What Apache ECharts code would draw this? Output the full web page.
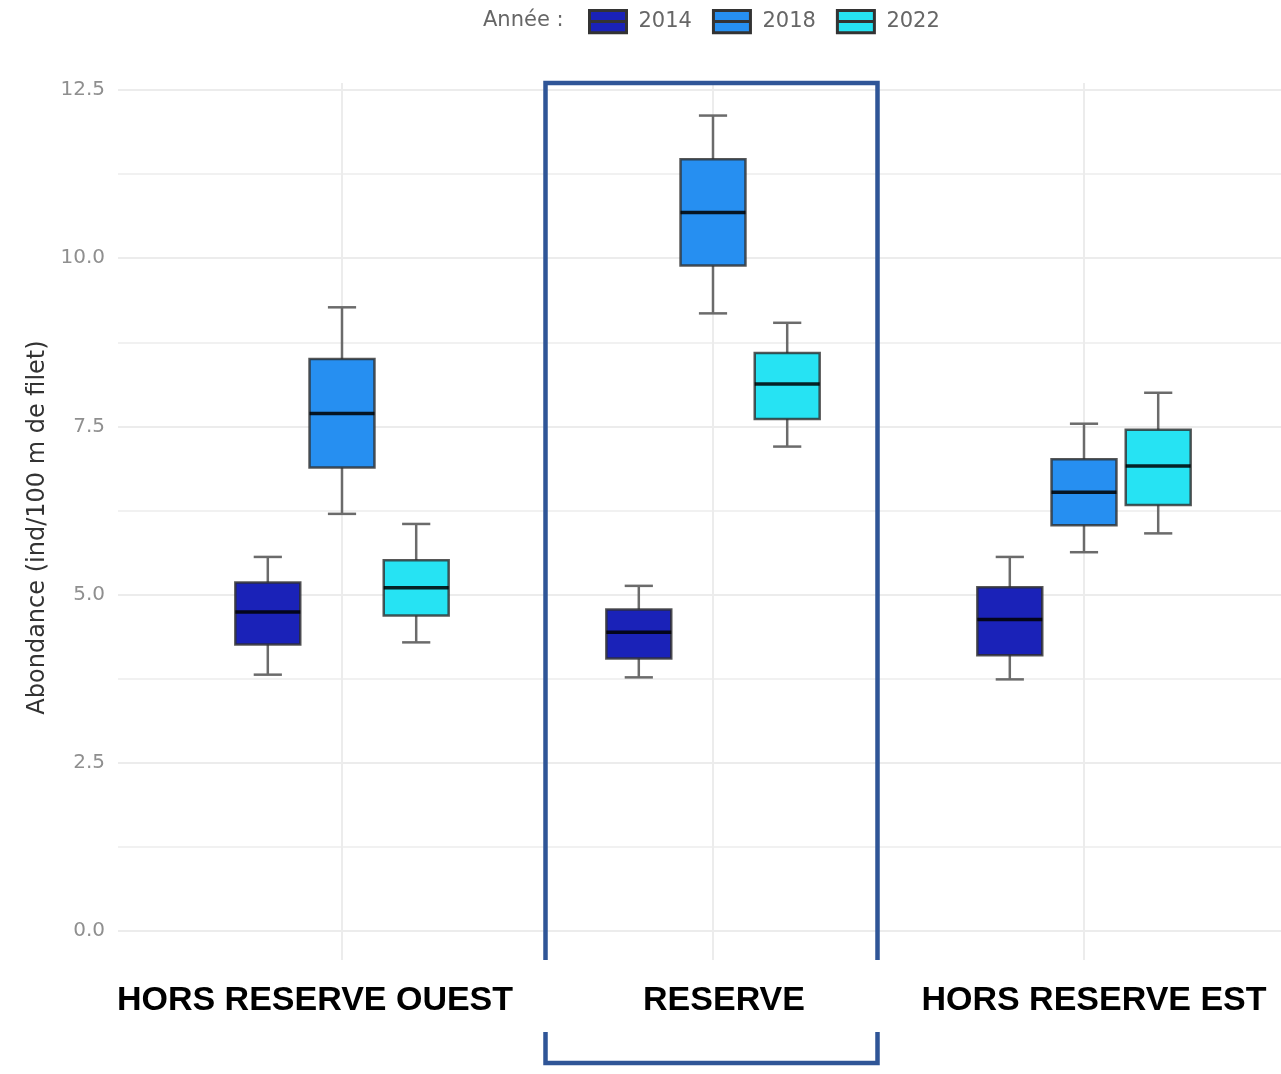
<!DOCTYPE html>
<html>
<head>
<meta charset="utf-8">
<script src="https://cdn.jsdelivr.net/npm/echarts@6/dist/echarts.min.js"></script>
<style>
  html, body { margin: 0; padding: 0; background: #fff; }
  #chart { width: 1281px; height: 1074px; }
</style>
</head>
<body>
<div id="chart"></div>
<script>
// data: [min, q1, median, q3, max] per site
var categories = ['HORS RESERVE OUEST', 'RESERVE', 'HORS RESERVE EST'];
var years = ['2014', '2018', '2022'];
var box2014 = [[3.81, 4.26, 4.74, 5.18, 5.56], [3.77, 4.05, 4.44, 4.78, 5.13], [3.74, 4.10, 4.63, 5.11, 5.56]];
var box2018 = [[6.20, 6.89, 7.69, 8.50, 9.27], [9.18, 9.89, 10.68, 11.47, 12.12], [5.63, 6.03, 6.52, 7.01, 7.54]];
var box2022 = [[4.29, 4.69, 5.10, 5.51, 6.05], [7.20, 7.61, 8.13, 8.59, 9.04], [5.91, 6.33, 6.91, 7.45, 8.00]];
var yMin = 0, yMax = 12.5, yStep = 2.5;

var colors = ['#1a22b8', '#268ff1', '#26e3f3'];
var offsets = [-0.2, 0, 0.2];
var boxes = [box2014, box2018, box2022];

var chart = echarts.init(document.getElementById('chart'));

function renderBox (offset, color) {
  return function (params, api) {
    var ci = api.value(0);
    var band = api.size([1, 0])[0];
    var cx = api.coord([ci, 0])[0] + offset * band;
    var yLo = api.coord([ci, api.value(1)])[1];
    var yQ1 = api.coord([ci, api.value(2)])[1];
    var yMed = api.coord([ci, api.value(3)])[1];
    var yQ3 = api.coord([ci, api.value(4)])[1];
    var yHi = api.coord([ci, api.value(5)])[1];
    var half = band * 0.0875;
    var cap = band * 0.038;
    var wStyle = { stroke: '#6b6b6b', lineWidth: 2.5 };
    return {
      type: 'group',
      children: [
        { type: 'line', shape: { x1: cx, y1: yHi, x2: cx, y2: yQ3 }, style: wStyle },
        { type: 'line', shape: { x1: cx, y1: yQ1, x2: cx, y2: yLo }, style: wStyle },
        { type: 'line', shape: { x1: cx - cap, y1: yHi, x2: cx + cap, y2: yHi }, style: wStyle },
        { type: 'line', shape: { x1: cx - cap, y1: yLo, x2: cx + cap, y2: yLo }, style: wStyle },
        { type: 'rect', shape: { x: cx - half, y: yQ3, width: half * 2, height: yQ1 - yQ3 },
          style: { fill: color, stroke: 'rgba(45,45,45,0.8)', lineWidth: 2.5 } },
        { type: 'line', shape: { x1: cx - half, y1: yMed, x2: cx + half, y2: yMed },
          style: { stroke: 'rgba(0,0,0,0.85)', lineWidth: 3.5 } }
      ]
    };
  };
}

var series = [];
for (let k = 0; k < years.length; k++) {
  var rows = [];
  for (let i = 0; i < categories.length; i++) {
    rows.push([i].concat(boxes[k][i]));
  }
  var s = {
    name: years[k],
    type: 'custom',
    xAxisIndex: 1,
    yAxisIndex: 1,
    z: 3,
    itemStyle: { color: colors[k] },
    encode: { x: 0, y: [1, 2, 3, 4, 5] },
    renderItem: renderBox(offsets[k], colors[k]),
    data: rows
  };
  if (k === 0) {
    s.markLine = {
      silent: true,
      symbol: 'none',
      z: 1,
      label: { show: false },
      lineStyle: { color: '#ececec', width: 2, type: 'solid' },
      data: categories.map(function (c) { return { xAxis: c }; })
    };
  }
  series.push(s);
}

var labelRich = {};
var labelPad = [[0, 54, 0, 0], [0, 0, 0, 22], [0, 0, 0, 20]];
for (let i = 0; i < categories.length; i++) {
  labelRich['c' + i] = {
    fontFamily: 'Liberation Sans', fontWeight: 'bold', fontSize: 34, color: '#000',
    padding: labelPad[i]
  };
}

var frameColor = '#2F5597';

const option = {
  animation: false,
  title: {
    text: 'Année :',
    left: 483,
    top: 10,
    padding: 0,
    textStyle: { fontFamily: 'DejaVu Sans', fontWeight: 'normal', fontSize: 21, color: '#666' }
  },
  legend: {
    data: years,
    left: 588,
    top: 9,
    padding: 0,
    itemWidth: 37,
    itemHeight: 23,
    itemGap: 20,
    selectedMode: false,
    icon: 'path://M0,0H40V24H0Z M0,12H40',
    itemStyle: { borderColor: '#333', borderWidth: 3 },
    textStyle: { fontFamily: 'DejaVu Sans', fontSize: 21, color: '#666', padding: [0, 0, 0, 7] }
  },
  grid: [
    { left: 118, right: 0, top: 90, bottom: 143 },
    { left: 156.5, right: 11.5, top: 83, bottom: 114 }
  ],
  xAxis: [
    { type: 'value', gridIndex: 0, show: false, min: 0, max: 1 },
    {
      type: 'category',
      gridIndex: 1,
      data: categories,
      axisLine: { show: false },
      axisTick: { show: false },
      splitLine: { show: false },
      axisLabel: {
        interval: 0,
        margin: 24,
        formatter: function (v, i) { return '{c' + i + '|' + v + '}'; },
        rich: labelRich
      }
    }
  ],
  yAxis: [
    {
      type: 'value',
      gridIndex: 0,
      min: yMin,
      max: yMax,
      interval: yStep,
      name: 'Abondance (ind/100 m de filet)',
      nameLocation: 'middle',
      nameGap: 66,
      nameTextStyle: { fontFamily: 'DejaVu Sans', fontSize: 24, color: '#333', padding: [0, 34, 0, 0] },
      axisLine: { show: false },
      axisTick: { show: false },
      axisLabel: {
        margin: 13,
        fontFamily: 'DejaVu Sans',
        fontSize: 20,
        color: '#8f8f8f',
        formatter: function (v) { return v.toFixed(1); }
      },
      splitLine: { lineStyle: { color: '#ececec', width: 2 } },
      minorTick: { show: false, splitNumber: 2 },
      minorSplitLine: { show: true, lineStyle: { color: '#f1f1f1', width: 2 } }
    },
    {
      type: 'value',
      gridIndex: 1,
      min: -0.431,
      max: 12.604,
      show: false,
      splitLine: { show: false }
    }
  ],
  graphic: [
    {
      type: 'polyline',
      z: 100,
      shape: { points: [[545.5, 960], [545.5, 83], [877.5, 83], [877.5, 960]] },
      style: { stroke: frameColor, lineWidth: 4.5, fill: 'none' }
    },
    {
      type: 'polyline',
      z: 100,
      shape: { points: [[545.5, 1032], [545.5, 1063], [877.5, 1063], [877.5, 1032]] },
      style: { stroke: frameColor, lineWidth: 4.5, fill: 'none' }
    }
  ],
  series: series
};

chart.setOption(option);
</script>
</body>
</html>
